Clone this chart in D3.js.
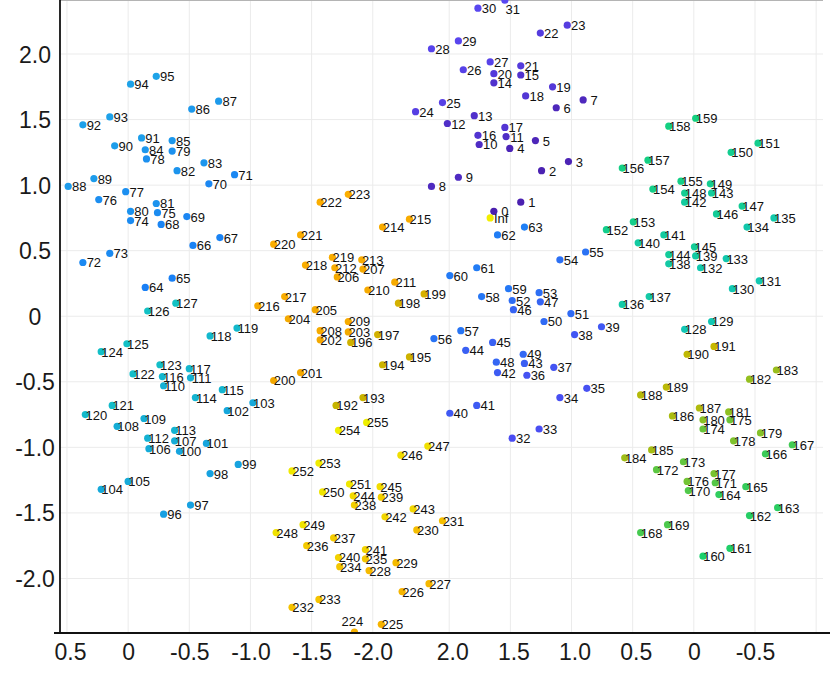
<!DOCTYPE html>
<html>
<head>
<meta charset="utf-8">
<script src="https://cdn.jsdelivr.net/npm/d3@7"></script>
<style>
  html, body { margin: 0; padding: 0; background: #fff; }
  svg { display: block; font-family: "Liberation Sans", Arial, Helvetica, sans-serif; }
</style>
</head>
<body>
<div id="chart"></div>
<script>
// Point positions: x is the unrolled horizontal coordinate
// (left panel matches its tick labels, right panel continues past -2.0), y as shown.
const xValues = [
  -2.99, -3.21, -3.38, -3.60, -3.12, -3.33, -3.50, -3.72, -2.48, -2.70, -2.87, -3.09, -2.61, -2.83, -2.99, -3.21,
  -2.86, -3.08, -3.25, -3.47, -2.99, -3.21, -3.37, -3.59, -2.35, -2.57, -2.74, -2.96, -2.48, -2.70, -2.86, -3.08,
  -3.14, -3.36, -3.53, -3.75, -3.26, -3.48, -3.65, -3.87, -2.63, -2.85, -3.02, -3.24, -2.76, -2.98, -3.15, -3.37,
  -3.01, -3.23, -3.40, -3.62, -3.14, -3.36, -3.53, -3.74, -2.50, -2.72, -2.89, -3.11, -2.63, -2.85, -3.02, -3.24,
  -0.14, -0.36, -0.53, -0.75, -0.27, -0.48, -0.66, -0.87, 0.37, 0.15, -0.02, -0.24, 0.24, 0.02, -0.15, -0.36,
  -0.02, -0.23, -0.40, -0.62, -0.14, -0.36, -0.52, -0.74, 0.49, 0.28, 0.11, -0.11, 0.37, 0.15, -0.02, -0.23,
  -0.29, -0.51, -0.67, -0.90, -0.42, -0.64, -0.81, -1.02, 0.22, 0.00, -0.17, -0.38, 0.09, -0.13, -0.29, -0.51,
  -0.16, -0.38, -0.55, -0.77, -0.28, -0.50, -0.67, -0.89, 0.35, 0.13, -0.04, -0.26, 0.22, 0.01, -0.16, -0.39,
  -4.55, -4.77, -4.94, -5.16, -4.68, -4.89, -5.06, -5.28, -4.04, -4.26, -4.42, -4.64, -4.17, -4.38, -4.55, -4.77,
  -4.42, -4.63, -4.81, -5.02, -4.55, -4.76, -4.93, -5.15, -3.91, -4.13, -4.29, -4.52, -4.04, -4.25, -4.42, -4.64,
  -4.70, -4.92, -5.08, -5.31, -4.83, -5.05, -5.21, -5.43, -4.19, -4.41, -4.58, -4.80, -4.32, -4.54, -4.70, -4.92,
  -4.57, -4.79, -4.95, -5.17, -4.70, -4.91, -5.08, -5.30, -4.06, -4.28, -4.45, -4.67, -4.19, -4.40, -4.57, -4.79,
  -1.70, -1.92, -2.08, -2.30, -1.82, -2.04, -2.21, -2.42, -1.19, -1.41, -1.57, -1.80, -1.31, -1.53, -1.71, -1.92,
  -1.57, -1.80, -1.96, -2.18, -1.69, -1.91, -2.08, -2.30, -1.06, -1.28, -1.45, -1.67, -1.19, -1.41, -1.57, -1.80,
  -1.85, -2.07, -2.24, -2.46, -1.97, -2.19, -2.36, -2.57, -1.34, -1.56, -1.73, -1.94, -1.46, -1.68, -1.85, -2.07,
  -1.72, -1.94, -2.10, -2.33, -1.84, -2.06, -2.23, -2.45, -1.21, -1.43, -1.59, -1.81, -1.34, -1.56, -1.72, -1.95
];

const yValues = [
  0.80, 0.87, 1.11, 1.18, 1.28, 1.34, 1.59, 1.65, 0.99, 1.06, 1.31, 1.37, 1.47, 1.53, 1.78, 1.84,
  1.38, 1.44, 1.68, 1.75, 1.85, 1.91, 2.16, 2.22, 1.56, 1.63, 1.88, 1.94, 2.04, 2.10, 2.35, 2.41,
  -0.93, -0.86, -0.62, -0.55, -0.45, -0.39, -0.14, -0.08, -0.74, -0.68, -0.43, -0.36, -0.26, -0.20, 0.05, 0.11,
  -0.35, -0.29, -0.04, 0.02, 0.12, 0.18, 0.43, 0.49, -0.17, -0.11, 0.15, 0.21, 0.31, 0.37, 0.62, 0.68,
  0.22, 0.29, 0.54, 0.60, 0.70, 0.76, 1.01, 1.08, 0.41, 0.48, 0.73, 0.79, 0.89, 0.95, 1.20, 1.26,
  0.80, 0.86, 1.11, 1.17, 1.27, 1.34, 1.58, 1.64, 0.99, 1.05, 1.30, 1.36, 1.46, 1.52, 1.77, 1.83,
  -1.51, -1.44, -1.20, -1.13, -1.03, -0.97, -0.72, -0.66, -1.32, -1.26, -1.01, -0.95, -0.84, -0.78, -0.53, -0.47,
  -0.93, -0.87, -0.62, -0.56, -0.46, -0.40, -0.15, -0.09, -0.75, -0.68, -0.44, -0.37, -0.27, -0.21, 0.04, 0.10,
  -0.10, -0.04, 0.21, 0.27, 0.37, 0.44, 0.68, 0.75, 0.09, 0.15, 0.40, 0.46, 0.56, 0.62, 0.87, 0.94,
  0.47, 0.53, 0.78, 0.84, 0.94, 1.01, 1.25, 1.32, 0.66, 0.72, 0.97, 1.03, 1.13, 1.19, 1.45, 1.51,
  -1.83, -1.77, -1.52, -1.46, -1.36, -1.30, -1.05, -0.98, -1.65, -1.59, -1.33, -1.27, -1.17, -1.11, -0.86, -0.79,
  -1.26, -1.20, -0.95, -0.89, -0.79, -0.73, -0.48, -0.41, -1.08, -1.02, -0.76, -0.70, -0.60, -0.54, -0.29, -0.23,
  -0.68, -0.62, -0.37, -0.31, -0.20, -0.14, 0.10, 0.17, -0.49, -0.43, -0.18, -0.12, -0.02, 0.05, 0.30, 0.36,
  -0.11, -0.04, 0.20, 0.26, 0.37, 0.43, 0.68, 0.74, 0.08, 0.15, 0.39, 0.45, 0.55, 0.62, 0.87, 0.93,
  -2.41, -2.35, -2.10, -2.04, -1.94, -1.88, -1.63, -1.56, -2.22, -2.16, -1.91, -1.85, -1.75, -1.69, -1.44, -1.38,
  -1.84, -1.78, -1.53, -1.47, -1.37, -1.30, -1.06, -0.99, -1.65, -1.59, -1.34, -1.28, -1.18, -1.12, -0.87, -0.81
];

// the extra "Inf" point
const infLabel = 'Inf';
const infX = -2.96;
const infY = 0.75;

// colour by point index
const colorStops = [0, 31, 32, 63, 64, 95, 96, 127, 128, 159, 160, 191, 192, 199, 200, 223, 224, 255];
const colorValues = ['#4a1fae', '#5a48f2', '#4b4cf2', '#1f7ff5', '#1a80f5', '#1ea3e8', '#17a0e2', '#12c2c4',
                     '#12c6b6', '#14d080', '#1ad06c', '#c6b800', '#c6b400', '#d6b000', '#f2a900', '#fbae00',
                     '#f6b200', '#eef000'];
const infColor = '#f2ee00';

const yTickValues = [-2, -1.5, -1, -0.5, 0, 0.5, 1, 1.5, 2];
const yTickLabels = ['-2.0', '-1.5', '-1.0', '-0.5', '0', '0.5', '1.0', '1.5', '2.0'];
const xTickValues = [0.5, 0, -0.5, -1, -1.5, -2, -2.625, -3.125, -3.625, -4.125, -4.625, -5.125, -5.625];
const xTickLabels = ['0.5', '0', '-0.5', '-1.0', '-1.5', '-2.0', '2.0', '1.5', '1.0', '0.5', '0', '-0.5', ''];

const width = 830, height = 679;
const plot = { left: 60, right: 823, top: 0, bottom: 633 };

const x = d3.scaleLinear().domain([0.557, -5.681]).range([plot.left, plot.right]);
const y = d3.scaleLinear().domain([-2.416, 2.412]).range([plot.bottom, plot.top]);
const color = d3.scaleLinear().domain(colorStops).range(colorValues);

const points = xValues.map((v, i) => ({ label: String(i), x: v, y: yValues[i], fill: color(i) }));
points.push({ label: infLabel, x: infX, y: infY, fill: infColor });

const svg = d3.select('#chart').append('svg')
  .attr('width', width)
  .attr('height', height);

svg.append('defs').append('clipPath').attr('id', 'plot-clip')
  .append('rect')
  .attr('x', plot.left).attr('y', plot.top)
  .attr('width', plot.right - plot.left).attr('height', plot.bottom - plot.top);

// grid
const grid = svg.append('g');
grid.selectAll('line.h')
  .data(yTickValues)
  .enter().append('line')
  .attr('x1', plot.left).attr('x2', plot.right)
  .attr('y1', d => y(d)).attr('y2', d => y(d))
  .style('stroke', '#ebebeb').style('stroke-width', 1);
grid.selectAll('line.v')
  .data(xTickValues)
  .enter().append('line')
  .attr('x1', d => x(d)).attr('x2', d => x(d))
  .attr('y1', plot.top).attr('y2', plot.bottom)
  .style('stroke', '#ebebeb').style('stroke-width', 1);

// top frame line
svg.append('line')
  .attr('x1', plot.left).attr('x2', plot.right)
  .attr('y1', 0.5).attr('y2', 0.5)
  .style('stroke', '#b4b4b4').style('stroke-width', 1);

// points
const pts = svg.append('g').attr('clip-path', 'url(#plot-clip)');
pts.selectAll('circle')
  .data(points)
  .enter().append('circle')
  .attr('cx', d => x(d.x))
  .attr('cy', d => y(d.y))
  .attr('r', 3.6)
  .style('fill', d => d.fill);

// labels, flipped above/below when the point sits on the plot edge
const labelPos = d => {
  if (d.y > 2.38) return [8, 9];
  if (d.y < -2.38) return [-2, -11];
  return [11, 0.5];
};
svg.append('g').selectAll('text')
  .data(points)
  .enter().append('text')
  .attr('x', d => x(d.x) + labelPos(d)[0])
  .attr('y', d => y(d.y) + labelPos(d)[1])
  .attr('text-anchor', 'middle')
  .attr('dominant-baseline', 'central')
  .style('font-size', '13px')
  .style('fill', '#111')
  .text(d => d.label);

// axes
const xAxis = svg.append('g')
  .attr('transform', `translate(0,${plot.bottom})`)
  .call(d3.axisBottom(x).tickValues(xTickValues).tickFormat((d, i) => xTickLabels[i]).tickSize(0));
xAxis.select('.domain').remove();
xAxis.selectAll('text')
  .attr('y', 26.5)
  .attr('dy', null)
  .attr('dx', (d, i) => (xTickLabels[i].startsWith('-') || xTickLabels[i] === '0') ? 0 : 3)
  .style('font-size', '23px')
  .style('fill', '#1a1a1a')
  .style('font-family', '"Liberation Sans", Arial, Helvetica, sans-serif');

const yAxis = svg.append('g')
  .attr('transform', `translate(${plot.left},0)`)
  .call(d3.axisLeft(y).tickValues(yTickValues).tickFormat((d, i) => yTickLabels[i]).tickSize(0));
yAxis.select('.domain').remove();
yAxis.selectAll('text')
  .attr('x', -25)
  .attr('dy', '0.35em')
  .attr('text-anchor', 'middle')
  .style('font-size', '23px')
  .style('fill', '#1a1a1a')
  .style('font-family', '"Liberation Sans", Arial, Helvetica, sans-serif');

svg.append('line')
  .attr('x1', plot.left).attr('x2', plot.left)
  .attr('y1', 0).attr('y2', plot.bottom)
  .style('stroke', '#111').style('stroke-width', 1.8);
svg.append('line')
  .attr('x1', 54).attr('x2', width)
  .attr('y1', plot.bottom).attr('y2', plot.bottom)
  .style('stroke', '#111').style('stroke-width', 1.8);
</script>
</body>
</html>
